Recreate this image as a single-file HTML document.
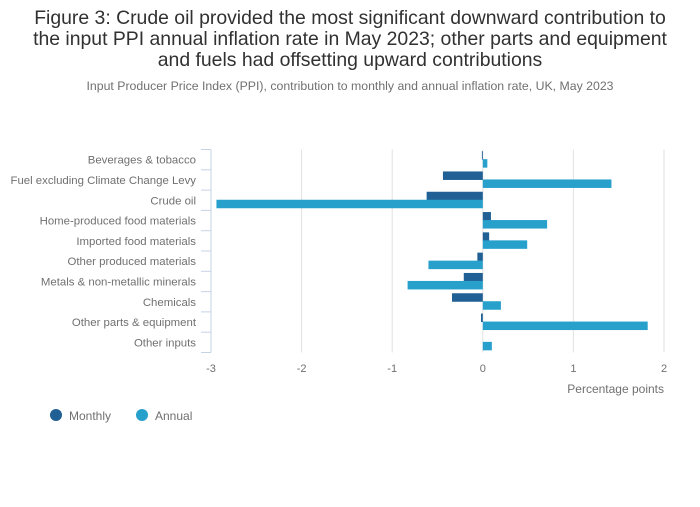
<!DOCTYPE html>
<html><head><meta charset="utf-8"><style>
body{margin:0;background:#fff;font-family:"Liberation Sans",sans-serif;}
svg text{font-family:"Liberation Sans",sans-serif;}
</style></head><body>
<svg width="700" height="502" id="chart">
<text x="350" y="24" text-anchor="middle" font-size="19.4" fill="#323132">Figure 3: Crude oil provided the most significant downward contribution to</text>
<text x="350" y="45" text-anchor="middle" font-size="19.4" fill="#323132">the input PPI annual inflation rate in May 2023; other parts and equipment</text>
<text x="350" y="66" text-anchor="middle" font-size="19.4" fill="#323132">and fuels had offsetting upward contributions</text>
<text x="350" y="90" text-anchor="middle" font-size="12.3" fill="#707071">Input Producer Price Index (PPI), contribution to monthly and annual inflation rate, UK, May 2023</text>
<g id="plot"></g>
<text x="664" y="393" text-anchor="end" font-size="12" fill="#707071">Percentage points</text>
<g>
<circle cx="56" cy="415" r="6" fill="#206095"/>
<text x="69" y="420" font-size="12" fill="#707071">Monthly</text>
<circle cx="142" cy="415" r="6" fill="#27a0cc"/>
<text x="155" y="420" font-size="12" fill="#707071">Annual</text>
</g>
</svg>
<script>
const categories=["Beverages & tobacco","Fuel excluding Climate Change Levy","Crude oil","Home-produced food materials","Imported food materials","Other produced materials","Metals & non-metallic minerals","Chemicals","Other parts & equipment","Other inputs"];
const monthly=[-0.01,-0.44,-0.62,0.09,0.07,-0.06,-0.21,-0.34,-0.02,0.0];
const annual=[0.05,1.42,-2.94,0.71,0.49,-0.60,-0.83,0.20,1.82,0.10];
const ticks=[-3,-2,-1,0,1,2];
const NS="http://www.w3.org/2000/svg";
const g=document.getElementById('plot');
const x0=211,x1=664,y0=149.5,y1=352.5,xmin=-3,xmax=2;
const xs=v=>x0+(v-xmin)/(xmax-xmin)*(x1-x0);
const band=(y1-y0)/categories.length;
function mk(t,a){const e=document.createElementNS(NS,t);for(const k in a)e.setAttribute(k,a[k]);g.appendChild(e);return e;}
ticks.forEach(t=>{
 if(t!==xmin){const l=mk('line',{x1:xs(t),x2:xs(t),y1:y0,y2:y1,stroke:'#e2e2e3','stroke-width':1});
 
 }
 const tx=mk('text',{x:xs(t),y:372,'text-anchor':'middle','font-size':11,fill:'#707071'});
 tx.textContent=t;
 
 
});
const ax=mk('line',{x1:x0,x2:x0,y1:y0,y2:y1,stroke:'#c6d3e6','stroke-width':1});


for(let i=0;i<=categories.length;i++){
 const tk=mk('line',{x1:x0-10,x2:x0,y1:y0+i*band,y2:y0+i*band,stroke:'#c6d3e6','stroke-width':1});
 
 
}
categories.forEach((c,i)=>{
 const cy=y0+(i+0.5)*band;
 const tx=mk('text',{x:196,y:cy+4,'text-anchor':'end','font-size':11.4,fill:'#707071'});
 tx.textContent=c;
 
 
 [[monthly[i],'#206095',cy-8.5],[annual[i],'#27a0cc',cy-0.5]].forEach(([v,col,yy],k)=>{
  if(v===0)return;
  const a=xs(Math.min(0,v)),b=xs(Math.max(0,v));
  const r=mk('rect',{x:a,y:yy,width:Math.max(b-a,0.8),height:8.5,fill:col});
  
  
 });
});
</script>
</body></html>
